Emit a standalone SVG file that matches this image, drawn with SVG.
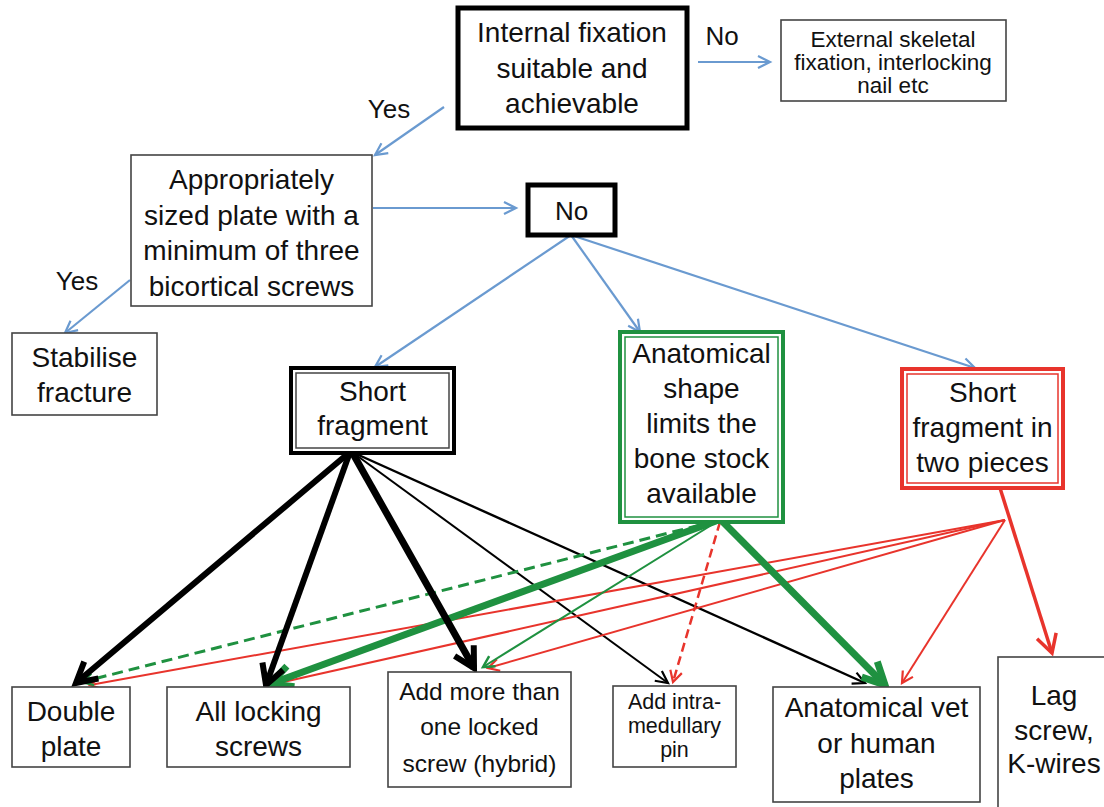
<svg xmlns="http://www.w3.org/2000/svg" width="1104" height="807" viewBox="0 0 1104 807">
<style>
text{font-family:"Liberation Sans",Arial,Helvetica,sans-serif;fill:#111;text-anchor:middle}
.t28{font-size:28px}
.t26{font-size:26px}
.t24{font-size:24.5px}
.t23{font-size:22.5px}
.t21{font-size:21.5px}
.box{fill:#fff;stroke:#444;stroke-width:1.6}
.heavy{fill:#fff;stroke:#000;stroke-width:5}
.blue{stroke:#6a9ad0;stroke-width:2.2;fill:none}
.blk{stroke:#000;fill:none}
.grn{stroke:#1f9140;fill:none}
.red{stroke:#e8342c;fill:none}
.mk{fill:none;stroke-linejoin:miter;stroke-linecap:butt}
</style>
<defs>
<marker id="aBlue" markerUnits="userSpaceOnUse" orient="auto" overflow="visible" markerWidth="1" markerHeight="1"><path class="mk" d="M-12,-6 L0,0 L-12,6" stroke="#6a9ad0" stroke-width="2.2"/></marker>
<marker id="aBlkBig" markerUnits="userSpaceOnUse" orient="auto" overflow="visible" markerWidth="1" markerHeight="1"><path class="mk" d="M-20,-11 L0,0 L-20,11" stroke="#000" stroke-width="6"/></marker>
<marker id="aBlkThin" markerUnits="userSpaceOnUse" orient="auto" overflow="visible" markerWidth="1" markerHeight="1"><path class="mk" d="M-12,-6 L0,0 L-12,6" stroke="#000" stroke-width="2.2"/></marker>
<marker id="aGrnBig" markerUnits="userSpaceOnUse" orient="auto" overflow="visible" markerWidth="1" markerHeight="1"><path class="mk" d="M-22,-11 L0,0 L-22,11" stroke="#1f9140" stroke-width="7"/></marker>
<marker id="aGrnThin" markerUnits="userSpaceOnUse" orient="auto" overflow="visible" markerWidth="1" markerHeight="1"><path class="mk" d="M-11,-6 L0,0 L-11,6" stroke="#1f9140" stroke-width="2.5"/></marker>
<marker id="aRedThin" markerUnits="userSpaceOnUse" orient="auto" overflow="visible" markerWidth="1" markerHeight="1"><path class="mk" d="M-11,-6 L0,0 L-11,6" stroke="#e8342c" stroke-width="2.2"/></marker>
<marker id="aRedBig" markerUnits="userSpaceOnUse" orient="auto" overflow="visible" markerWidth="1" markerHeight="1"><path class="mk" d="M-18,-10 L0,0 L-18,10" stroke="#e8342c" stroke-width="3.5"/></marker>
</defs>
<rect x="0" y="0" width="1104" height="807" fill="#fff"/>

<g id="connectors">
<line class="blue" x1="698" y1="62" x2="770" y2="62" marker-end="url(#aBlue)"/>
<line class="blue" x1="444" y1="107" x2="375" y2="155" marker-end="url(#aBlue)"/>
<line class="blue" x1="373" y1="208" x2="516" y2="208" marker-end="url(#aBlue)"/>
<line class="blue" x1="130" y1="280" x2="65" y2="333" marker-end="url(#aBlue)"/>
<line class="blue" x1="571" y1="235" x2="375" y2="367" marker-end="url(#aBlue)"/>
<line class="blue" x1="571" y1="235" x2="640" y2="332" marker-end="url(#aBlue)"/>
<line class="blue" x1="571" y1="235" x2="975" y2="368" marker-end="url(#aBlue)"/>

<line class="blk" stroke-width="2" x1="352" y1="452" x2="668" y2="683" marker-end="url(#aBlkThin)"/>
<line class="blk" stroke-width="2.4" x1="352" y1="452" x2="865" y2="683" marker-end="url(#aBlkThin)"/>

<line class="red" stroke-width="2" x1="1005" y1="520" x2="90" y2="685" marker-end="url(#aRedThin)"/>
<line class="red" stroke-width="2" x1="1005" y1="520" x2="270" y2="685" marker-end="url(#aRedThin)"/>
<line class="red" stroke-width="2" x1="1005" y1="520" x2="488" y2="668" marker-end="url(#aRedThin)"/>
<line class="red" stroke-width="2" x1="1005" y1="520" x2="902" y2="683" marker-end="url(#aRedThin)"/>
<line class="red" stroke-width="3.5" x1="1000" y1="488" x2="1052" y2="653" marker-end="url(#aRedBig)"/>
<line class="red" stroke-width="2.5" stroke-dasharray="9 5" x1="720" y1="522" x2="673" y2="682" marker-end="url(#aRedThin)"/>

<line class="grn" stroke-width="3" stroke-dasharray="11 6" x1="716" y1="521" x2="82" y2="682" marker-end="url(#aGrnThin)"/>
<line class="grn" stroke-width="7" x1="716" y1="521" x2="270" y2="684" marker-end="url(#aGrnBig)"/>
<line class="grn" stroke-width="2" x1="718" y1="521" x2="483" y2="667" marker-end="url(#aGrnThin)"/>
<line class="grn" stroke-width="7" x1="722" y1="521" x2="885" y2="685" marker-end="url(#aGrnBig)"/>

<line class="blk" stroke-width="6" x1="350" y1="452" x2="76" y2="683" marker-end="url(#aBlkBig)"/>
<line class="blk" stroke-width="6" x1="350" y1="452" x2="266" y2="685" marker-end="url(#aBlkBig)"/>
<line class="blk" stroke-width="7" x1="352" y1="452" x2="474" y2="668" marker-end="url(#aBlkBig)"/>
</g>

<g id="labels">
<text class="t26" x="722" y="45">No</text>
<text class="t26" x="389" y="118">Yes</text>
<text class="t26" x="77" y="290">Yes</text>
</g>

<g id="n-internal">
<rect class="heavy" x="458" y="8" width="229" height="120"/>
<text class="t28" x="572" y="42">Internal fixation</text>
<text class="t28" x="572" y="78">suitable and</text>
<text class="t28" x="572" y="113">achievable</text>
</g>

<g id="n-external">
<rect class="box" x="781" y="20" width="225" height="81"/>
<text class="t23" x="893" y="47">External skeletal</text>
<text class="t23" x="893" y="70">fixation, interlocking</text>
<text class="t23" x="893" y="93">nail etc</text>
</g>

<g id="n-plate">
<rect class="box" x="131" y="155" width="241" height="151"/>
<text class="t28" x="251.5" y="189">Appropriately</text>
<text class="t28" x="251.5" y="225">sized plate with a</text>
<text class="t28" x="251.5" y="260">minimum of three</text>
<text class="t28" x="251.5" y="296">bicortical screws</text>
</g>

<g id="n-no">
<rect class="heavy" x="528" y="185" width="87" height="50"/>
<text class="t26" x="571.5" y="220">No</text>
</g>

<g id="n-stabilise">
<rect class="box" x="12" y="333" width="145" height="82"/>
<text class="t28" x="84.5" y="367">Stabilise</text>
<text class="t28" x="84.5" y="402">fracture</text>
</g>

<g id="n-short">
<rect x="291" y="368" width="163" height="85" fill="#fff" stroke="#000" stroke-width="4"/>
<rect x="296" y="373" width="153" height="75" fill="none" stroke="#444" stroke-width="1.5"/>
<text class="t28" x="372.5" y="401">Short</text>
<text class="t28" x="372.5" y="435">fragment</text>
</g>

<g id="n-anatomical-shape">
<rect x="620" y="332" width="163" height="190" fill="#fff" stroke="#1f9140" stroke-width="4"/>
<rect x="625" y="337" width="153" height="180" fill="none" stroke="#1f9140" stroke-width="1.5"/>
<text class="t28" x="701.5" y="363">Anatomical</text>
<text class="t28" x="701.5" y="398">shape</text>
<text class="t28" x="701.5" y="433">limits the</text>
<text class="t28" x="701.5" y="468">bone stock</text>
<text class="t28" x="701.5" y="503">available</text>
</g>

<g id="n-two-pieces">
<rect x="902" y="369" width="161" height="119" fill="#fff" stroke="#e8342c" stroke-width="4"/>
<rect x="907" y="374" width="151" height="109" fill="none" stroke="#e8342c" stroke-width="1.5"/>
<text class="t28" x="982.5" y="402">Short</text>
<text class="t28" x="982.5" y="437">fragment in</text>
<text class="t28" x="982.5" y="472">two pieces</text>
</g>

<g id="n-double">
<rect class="box" x="12" y="687" width="118" height="80"/>
<text class="t28" x="71" y="721">Double</text>
<text class="t28" x="71" y="756">plate</text>
</g>

<g id="n-locking">
<rect class="box" x="167" y="687" width="183" height="80"/>
<text class="t28" x="258.5" y="721">All locking</text>
<text class="t28" x="258.5" y="756">screws</text>
</g>

<g id="n-hybrid">
<rect class="box" x="388" y="672" width="183" height="115"/>
<text class="t24" x="479.5" y="700">Add more than</text>
<text class="t24" x="479.5" y="735">one locked</text>
<text class="t24" x="479.5" y="772">screw (hybrid)</text>
</g>

<g id="n-pin">
<rect class="box" x="613" y="686" width="123" height="81"/>
<text class="t21" x="674.5" y="709">Add intra-</text>
<text class="t21" x="674.5" y="733">medullary</text>
<text class="t21" x="674.5" y="757">pin</text>
</g>

<g id="n-anatomical-plates">
<rect class="box" x="773" y="687" width="207" height="115"/>
<text class="t28" x="876.5" y="717">Anatomical vet</text>
<text class="t28" x="876.5" y="753">or human</text>
<text class="t28" x="876.5" y="788">plates</text>
</g>

<g id="n-lag">
<rect class="box" x="998" y="657" width="112" height="155"/>
<text class="t28" x="1054" y="705">Lag</text>
<text class="t28" x="1054" y="740">screw,</text>
<text class="t28" x="1054" y="773">K-wires</text>
</g>
</svg>
